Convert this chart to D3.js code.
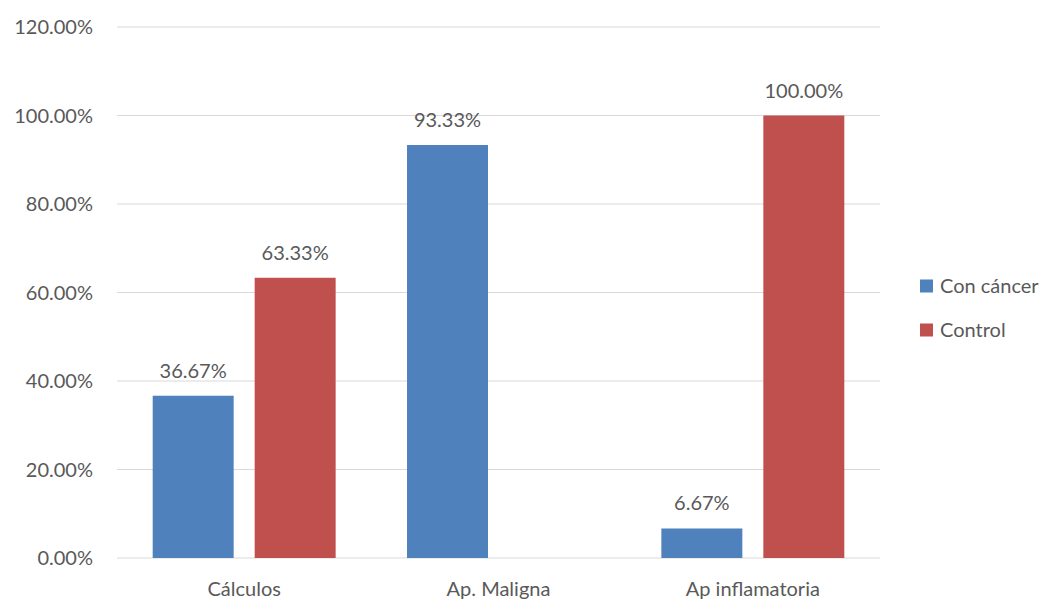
<!DOCTYPE html>
<html>
<head>
<meta charset="utf-8">
<script src="https://cdn.jsdelivr.net/npm/d3@7"></script>
<style>
  body { margin: 0; background: #fff; }
  text { font-family: Lato, "Open Sans", sans-serif; fill: #595959; }
</style>
</head>
<body>
<div id="chart"></div>
<script>
const categories = ["Cálculos", "Ap. Maligna", "Ap inflamatoria"];
const series = ["Con cáncer", "Control"];
const conCancer = [0.3667, 0.9333, 0.0667];
const control = [0.6333, null, 1.0];
const colors = ["#4F81BD", "#C0504D"];
const yTicks = [0, 0.2, 0.4, 0.6, 0.8, 1.0, 1.2];

const width = 1051, height = 601,
    margin = ({top: 27, right: 171, bottom: 43, left: 117});

const svg = d3.select("#chart")
    .append("svg")
    .attr("width", width)
    .attr("height", height);

const x = d3.scaleBand()
    .domain(categories)
    .range([margin.left, width - margin.right])
    .paddingInner(0)
    .paddingOuter(0);

const x1 = d3.scaleBand()
    .domain(series)
    .range([0, x.bandwidth()])
    .paddingInner(0.206)
    .paddingOuter(0.35);

const y = d3.scaleLinear()
    .domain([0, 1.2])
    .range([height - margin.bottom, margin.top]);

// gridlines
svg.append("g")
    .selectAll("line")
    .data(yTicks)
    .join("line")
    .attr("x1", margin.left)
    .attr("x2", width - margin.right)
    .attr("y1", d => y(d))
    .attr("y2", d => y(d))
    .attr("stroke", "#D9D9D9")
    .attr("stroke-width", 1);

// y labels
svg.append("g")
    .selectAll("text")
    .data(yTicks)
    .join("text")
    .attr("x", 93)
    .attr("y", d => y(d))
    .attr("dy", "0.35em")
    .attr("text-anchor", "end")
    .style("font-size", "20px")
    .text(d => d3.format(".2%")(d));

// x labels
svg.append("g")
    .selectAll("text")
    .data(categories)
    .join("text")
    .attr("x", d => x(d) + x.bandwidth() / 2)
    .attr("y", height - margin.bottom + 38)
    .attr("text-anchor", "middle")
    .style("font-size", "20px")
    .text(d => d);

const rows = [];
categories.forEach((c, i) => {
    [conCancer[i], control[i]].forEach((v, j) => {
        if (v != null) rows.push({cat: c, s: series[j], v: v, color: colors[j]});
    });
});

svg.append("g")
    .selectAll("rect")
    .data(rows)
    .join("rect")
    .attr("x", d => x(d.cat) + x1(d.s))
    .attr("width", x1.bandwidth())
    .attr("y", d => y(d.v))
    .attr("height", d => y(0) - y(d.v))
    .attr("fill", d => d.color);

svg.append("g")
    .selectAll("text")
    .data(rows)
    .join("text")
    .attr("x", d => x(d.cat) + x1(d.s) + x1.bandwidth() / 2)
    .attr("y", d => y(d.v) - 18)
    .attr("text-anchor", "middle")
    .style("font-size", "20px")
    .text(d => d3.format(".2%")(d.v));

// legend
const legend = svg.append("g")
    .selectAll("g")
    .data(series)
    .join("g")
    .attr("transform", (d, i) => `translate(920,${286 + i * 44})`);

legend.append("rect")
    .attr("x", 0)
    .attr("y", -6.5)
    .attr("width", 13)
    .attr("height", 13)
    .attr("fill", (d, i) => colors[i]);

legend.append("text")
    .attr("x", 20)
    .attr("y", 0)
    .attr("dy", "0.35em")
    .style("font-size", "20px")
    .text(d => d);
</script>
</body>
</html>
